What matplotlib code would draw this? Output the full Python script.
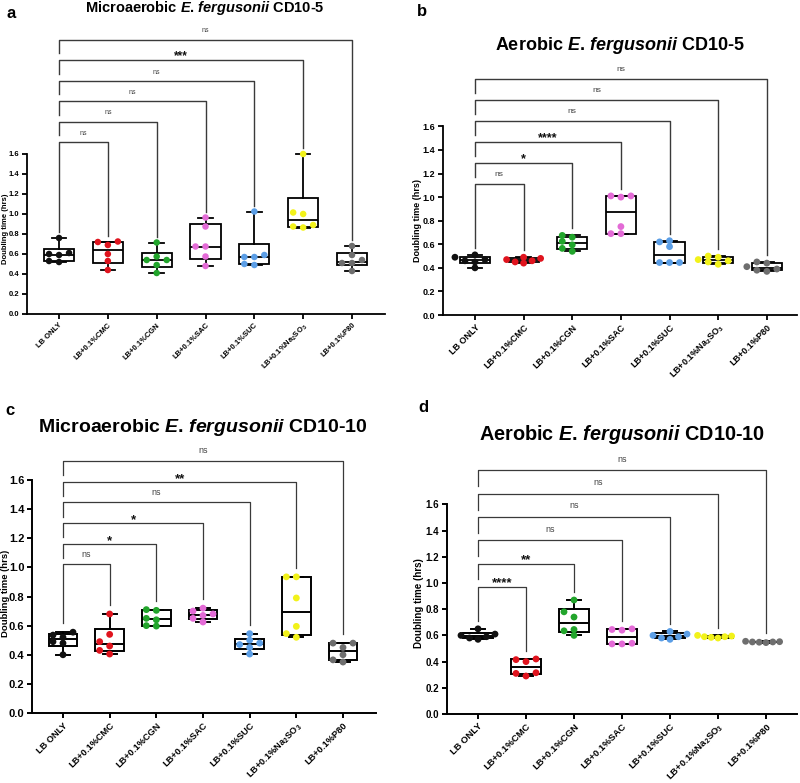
import numpy as np
import matplotlib.pyplot as plt

plt.rcParams['font.family'] = ['Liberation Sans', 'DejaVu Sans']
plt.rcParams['mathtext.fontset'] = 'custom'
plt.rcParams['mathtext.rm'] = 'Liberation Sans'
plt.rcParams['mathtext.it'] = 'Liberation Sans:italic:bold'
plt.rcParams['mathtext.bf'] = 'Liberation Sans:bold'
plt.rcParams['mathtext.default'] = 'regular'

groups = ['LB ONLY', 'LB+0.1%CMC', 'LB+0.1%CGN', 'LB+0.1%SAC',
          'LB+0.1%SUC', 'LB+0.1%Na$_2$SO$_3$', 'LB+0.1%P80']
colors = ['#111111', '#e0141e', '#22a52c', '#e36bd6', '#5b9ee6', '#f2f21a', '#6e6e6e']

# doubling time (hrs), 6 replicates per group
a_vals = [
    [0.76, 0.61, 0.60, 0.59, 0.53, 0.52],
    [0.725, 0.72, 0.69, 0.60, 0.53, 0.44],
    [0.715, 0.575, 0.54, 0.54, 0.49, 0.41],
    [0.965, 0.875, 0.675, 0.675, 0.575, 0.48],
    [1.025, 0.59, 0.57, 0.57, 0.50, 0.49],
    [1.60, 1.015, 1.0, 0.89, 0.875, 0.865],
    [0.68, 0.59, 0.54, 0.51, 0.51, 0.43],
]
b_vals = [
    [0.51, 0.49, 0.47, 0.46, 0.45, 0.40],
    [0.49, 0.48, 0.47, 0.46, 0.45, 0.44],
    [0.675, 0.66, 0.625, 0.595, 0.565, 0.54],
    [1.01, 1.01, 1.0, 0.75, 0.69, 0.69],
    [0.63, 0.62, 0.58, 0.445, 0.445, 0.445],
    [0.50, 0.49, 0.47, 0.46, 0.45, 0.43],
    [0.45, 0.44, 0.41, 0.39, 0.38, 0.37],
]
c_vals = [
    [0.555, 0.535, 0.52, 0.49, 0.48, 0.40],
    [0.68, 0.54, 0.49, 0.46, 0.43, 0.405],
    [0.71, 0.705, 0.65, 0.64, 0.60, 0.597],
    [0.72, 0.70, 0.68, 0.67, 0.65, 0.625],
    [0.545, 0.50, 0.48, 0.47, 0.45, 0.405],
    [0.935, 0.935, 0.79, 0.595, 0.545, 0.52],
    [0.48, 0.48, 0.45, 0.40, 0.365, 0.35],
]
d_vals = [
    [0.65, 0.61, 0.60, 0.59, 0.58, 0.57],
    [0.42, 0.415, 0.40, 0.315, 0.31, 0.29],
    [0.87, 0.78, 0.74, 0.645, 0.635, 0.60],
    [0.65, 0.645, 0.64, 0.54, 0.535, 0.535],
    [0.63, 0.61, 0.60, 0.59, 0.58, 0.57],
    [0.60, 0.595, 0.59, 0.59, 0.585, 0.58],
    [0.555, 0.552, 0.55, 0.55, 0.548, 0.545],
]

a_sig = ['ns', 'ns', 'ns', 'ns', '***', 'ns']
b_sig = ['ns', '*', '****', 'ns', 'ns', 'ns']
c_sig = ['ns', '*', '*', 'ns', '**', 'ns']
d_sig = ['****', '**', 'ns', 'ns', 'ns', 'ns']

titles = ['Microaerobic $\\it{E}$. $\\it{fergusonii}$ CD10-5',
          'Aerobic $\\it{E}$. $\\it{fergusonii}$ CD10-5',
          'Microaerobic $\\it{E}$. $\\it{fergusonii}$ CD10-10',
          'Aerobic $\\it{E}$. $\\it{fergusonii}$ CD10-10']

W, H = 800, 783
fig = plt.figure(figsize=(8, 7.83), dpi=100)


def swarm(v, ppu):
    # simple beeswarm: integer slots, then scaled to pixels
    order = np.argsort(v)
    slots = np.zeros(len(v))
    placed = []
    for k in order:
        y = v[k] * ppu
        for o in [0, -1, 1, -2, 2, -3, 3]:
            if all(abs(y - py) >= 5.5 or po != o for py, po in placed):
                break
        placed.append((y, o))
        slots[k] = o
    span = slots.max() - slots.min()
    step = 10.0 if span <= 2 else min(10.0, 34.0 / span)
    return slots * step


def panel(vals, sig, title, letter, lay):
    x0, x1, zero, ppu, ymax = lay['x0'], lay['x1'], lay['zero'], lay['ppu'], lay['ymax']
    ax = fig.add_axes([x0 / W, 1 - zero / H, (x1 - x0) / W, ymax * ppu / H])
    ax.set_xlim(-lay['lp'], 6 + lay['rp'])
    ax.set_ylim(0, ymax)
    cat_px = (x1 - x0) / (6 + lay['lp'] + lay['rp'])
    pos = np.arange(len(groups))

    stats = []
    for g, v in zip(groups, vals):
        q1, med, q3 = np.percentile(v, [25, 50, 75], method='weibull')
        stats.append(dict(label=g, med=med, q1=q1, q3=q3, whislo=min(v), whishi=max(v)))
    lw = lay['lw']
    ax.bxp(stats, positions=pos, widths=0.62, capwidths=0.3, showfliers=False,
           patch_artist=True,
           boxprops=dict(facecolor='white', edgecolor='black', linewidth=lw),
           medianprops=dict(color='black', linewidth=lw),
           whiskerprops=dict(color='black', linewidth=lw),
           capprops=dict(color='black', linewidth=lw), zorder=2)
    for i, v in enumerate(vals):
        v = np.array(v)
        offs = swarm(v, ppu) / cat_px
        ax.scatter(pos[i] + offs, v, s=lay['ms'], color=colors[i], zorder=3,
                   edgecolors='none')

    # significance brackets vs LB ONLY
    gap = 0.06
    for i, s in enumerate(sig):
        t = i + 1
        lev = lay['base'] + i * lay['step']
        left_bot = max(vals[0]) + gap if i == 0 else lev - 0.68 * lay['step']
        right_bot = max(vals[t]) + gap
        ax.plot([0, 0, t, t], [left_bot, lev, lev, right_bot], color='#3a3a3a',
                lw=lay['blw'], clip_on=False, zorder=1)
        if s == 'ns':
            ax.text(t / 2, lev + lay['ns_dy'], s, ha='center', va='bottom',
                    fontsize=lay['nsfs'], color='#444444')
        else:
            ax.text(t / 2, lev - lay['st_dy'], s, ha='center', va='bottom',
                    fontsize=lay['stfs'], fontweight='bold', color='#111111')

    for sp in ['top', 'right']:
        ax.spines[sp].set_visible(False)
    ax.spines['left'].set_bounds(0, 1.6)
    ax.spines['left'].set_linewidth(lw)
    ax.spines['bottom'].set_linewidth(lw)
    ticks = np.arange(0, 1.61, 0.2)
    ax.set_yticks(ticks)
    ax.set_yticklabels(['%.1f' % t for t in ticks], fontsize=lay['yfs'], fontweight='bold')
    ax.set_xticks(pos)
    ax.set_xticklabels(groups, rotation=45, ha='right', rotation_mode='anchor',
                       fontsize=lay['xfs'], fontweight='bold')
    ax.tick_params(width=lw, length=3.5, pad=2)
    # label anchor is its right edge (in pixels)
    ax.set_ylabel('Doubling time (hrs)', fontsize=lay['ylfs'], fontweight='bold')
    ax.yaxis.set_label_coords((lay['ylx'] - x0) / (x1 - x0), lay['ylc'] / ymax)

    fig.text(lay['tx'] / W, 1 - lay['ty'] / H, title, ha='center', va='center',
             fontsize=lay['tfs'], fontweight='bold')
    fig.text(lay['lx'] / W, 1 - lay['ly'] / H, letter, ha='center', va='center',
             fontsize=12, fontweight='bold')
    return ax


lay_a = dict(x0=27, x1=385, zero=314, ppu=100, ymax=2.9, lp=0.656, rp=0.676,
             base=1.72, step=0.205, ns_dy=0.05, st_dy=0.02, nsfs=5, stfs=8.5,
             xfs=5.5, yfs=5.5, ylfs=5.5, tfs=10.5, tx=205, ty=8,
             lx=11, ly=13, lw=1.3, blw=1.0, ms=22, ylx=9, ylc=0.85)
lay_b = dict(x0=443, x1=797, zero=315, ppu=117.9, ymax=2.15, lp=0.657, rp=0.62,
             base=1.11, step=0.178, ns_dy=0.05, st_dy=0.02, nsfs=6, stfs=9,
             xfs=6.5, yfs=6.5, ylfs=6.5, tfs=13, tx=620, ty=45,
             lx=422, ly=12, lw=1.3, blw=1.0, ms=24, ylx=422, ylc=0.8)
lay_c = dict(x0=32, x1=376, zero=713, ppu=145.6, ymax=1.85, lp=0.664, rp=0.707,
             base=1.02, step=0.142, ns_dy=0.04, st_dy=0.02, nsfs=6.5, stfs=9.5,
             xfs=6.7, yfs=8.0, ylfs=6.8, tfs=14, tx=203, ty=427,
             lx=10, ly=410, lw=1.4, blw=0.9, ms=24, ylx=10, ylc=0.82)
lay_d = dict(x0=447, x1=797, zero=714, ppu=131, ymax=2.0, lp=0.646, rp=0.646,
             base=0.97, step=0.178, ns_dy=0.05, st_dy=0.02, nsfs=6.5, stfs=9.5,
             xfs=6.8, yfs=7, ylfs=7, tfs=14.3, tx=622, ty=435,
             lx=423, ly=408, lw=1.4, blw=0.9, ms=24, ylx=424, ylc=0.85)

panel(a_vals, a_sig, titles[0], 'a', lay_a)
panel(b_vals, b_sig, titles[1], 'b', lay_b)
panel(c_vals, c_sig, titles[2], 'c', lay_c)
panel(d_vals, d_sig, titles[3], 'd', lay_d)

fig.savefig('out.png', dpi=100, facecolor='white')
